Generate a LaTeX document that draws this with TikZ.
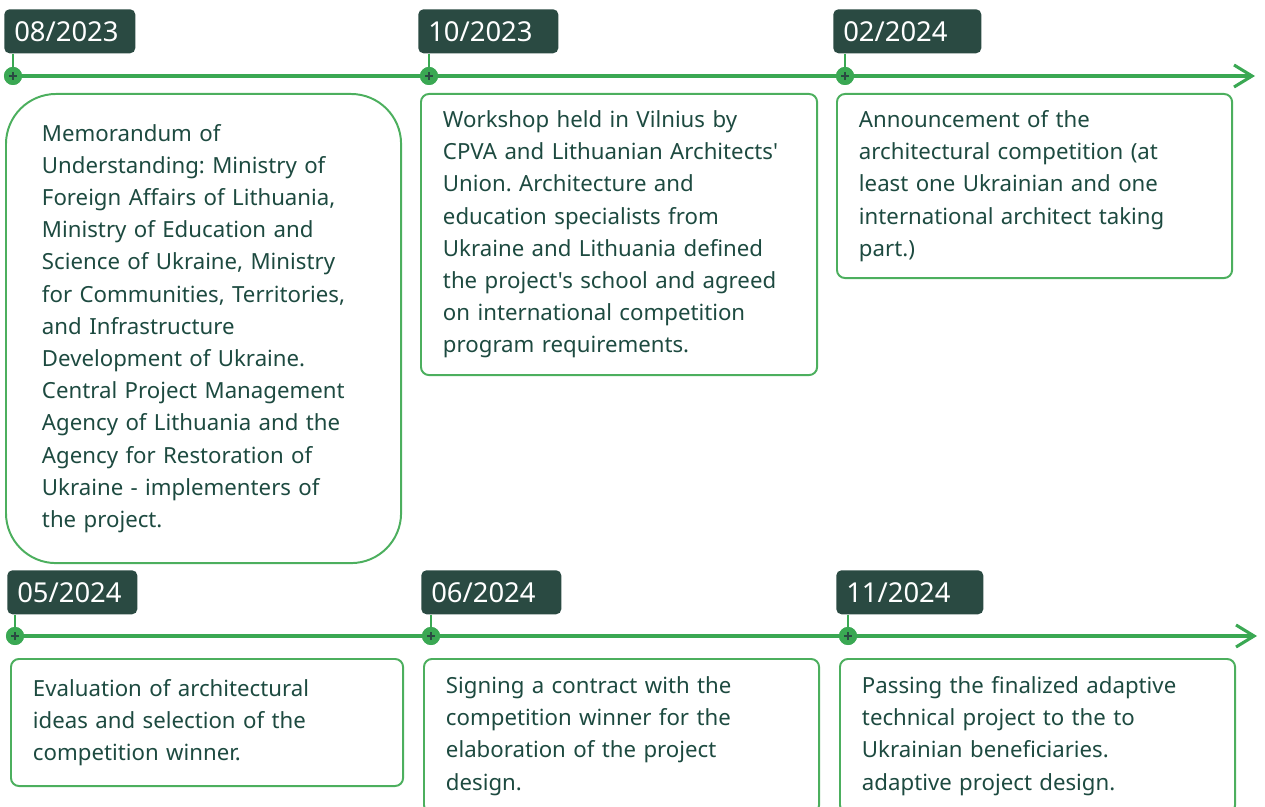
\documentclass[tikz,border=0pt]{standalone}
\usepackage{fontspec}
\setmainfont{Noto Sans}[Ligatures=TeXOff]
\usepackage{tikz}
\usetikzlibrary{arrows.meta,positioning}
\definecolor{lineg}{HTML}{3AA853}
\definecolor{boxg}{HTML}{4CAF5E}
\definecolor{dark}{HTML}{2A4A42}
\definecolor{txt}{HTML}{1D4A40}
\newcommand{\bodyfont}{\fontsize{15.8}{22.9}\selectfont}
\frenchspacing
\tikzset{
    datebox/.style={ % dark date tag
        rectangle,
        fill=dark,
        rounded corners=0.13cm,
        text=white,
        anchor=north west,
        inner xsep=0.25cm,
        minimum height=1.1cm,
        align=left,
        font=\fontsize{19.5}{22}\selectfont
        },
    dot/.style={ % timeline marker
        circle,
        fill=lineg,
        inner sep=0pt,
        minimum size=0.45cm,
        path picture={
            \draw[dark,line width=1.1pt]
              ([xshift=-0.1cm]path picture bounding box.center) -- ++(0.2cm,0)
              ([yshift=-0.1cm]path picture bounding box.center) -- ++(0,0.2cm);}
        },
    evbox/.style={ % event box
        rectangle,
        draw=boxg,
        line width=1.4pt,
        rounded corners=0.2cm,
        anchor=north west,
        inner xsep=0.55cm,
        align=left,
        text=txt,
        font=\bodyfont
        },
    axis/.style={
        draw=lineg,
        line width=2.2pt,
        -{Straight Barb[length=0.45cm,width=0.55cm,line width=2.2pt]}
        },
    stem/.style={
        draw=lineg,
        line width=1.2pt
        }
}
\begin{document}
\begin{tikzpicture}[x=0.025cm,y=-0.025cm]
    \useasboundingbox (0,0) rectangle (1265,807);

    %%%%% first row: timeline
    \coordinate (e1) at (1255,76);
    \node[dot] (m1) at (13,76) {};
    \node[dot] (m2) at (429,76) {};
    \node[dot] (m3) at (845,76) {};
    \draw[axis] (m1.center) -- (e1);

    %%%%% date tags d1..d3
    \node[datebox,text width=2.775cm] (d1) at (4,9) {08/2023};
    \node[datebox,text width=3cm] (d2) at (418,9) {10/2023};
    \node[datebox,text width=3.2cm] (d3) at (833,9) {02/2024};
    \draw[stem] (d1.south west -| m1) -- (m1);
    \draw[stem] (d2.south west -| m2) -- (m2);
    \draw[stem] (d3.south west -| m3) -- (m3);

    %%%%% redraw markers on top
    \node[dot] at (m1) {};
    \node[dot] at (m2) {};
    \node[dot] at (m3) {};

    %%%%% event b1
    \node[evbox,rounded corners=1.25cm,inner xsep=0.9cm,
          text width=8.075cm,minimum height=11.725cm] (b1) at (5,93) {
        Memorandum of\\
        Understanding: Ministry of\\
        Foreign Affairs of Lithuania,\\
        Ministry of Education and\\
        Science of Ukraine, Ministry\\
        for Communities, Territories,\\
        and Infrastructure\\
        Development of Ukraine.\\
        Central Project Management\\
        Agency of Lithuania and the\\
        Agency for Restoration of\\
        Ukraine - implementers of\\
        the project.};

    %%%%% event b2
    \node[evbox,text width=8.8cm,minimum height=7.025cm] (b2) at (420,93) {
        Workshop held in Vilnius by\\
        CPVA and Lithuanian Architects'\\
        Union. Architecture and\\
        education specialists from\\
        Ukraine and Lithuania defined\\
        the project's school and agreed\\
        on international competition\\
        program requirements.};

    %%%%% event b3
    \node[evbox,text width=8.775cm,minimum height=4.6cm] (b3) at (836,93) {
        Announcement of the\\
        architectural competition (at\\
        least one Ukrainian and one\\
        international architect taking\\
        part.)};

    %%%%% second row: timeline
    \coordinate (e2) at (1257,636);
    \node[dot] (m4) at (15,636) {};
    \node[dot] (m5) at (431,636) {};
    \node[dot] (m6) at (848,636) {};
    \draw[axis] (m4.center) -- (e2);

    %%%%% date tags d4..d6
    \node[datebox,text width=2.75cm] (d4) at (7,570) {05/2024};
    \node[datebox,text width=3cm] (d5) at (421,570) {06/2024};
    \node[datebox,text width=3.175cm] (d6) at (836,570) {11/2024};
    \draw[stem] (d4.south west -| m4) -- (m4);
    \draw[stem] (d5.south west -| m5) -- (m5);
    \draw[stem] (d6.south west -| m6) -- (m6);

    \node[dot] at (m4) {};
    \node[dot] at (m5) {};
    \node[dot] at (m6) {};

    %%%%% event b4
    \node[evbox,text width=8.7cm,minimum height=3.175cm] (b4) at (10,658) {
        Evaluation of architectural\\
        ideas and selection of the\\
        competition winner.};

    %%%%% event b5
    \node[evbox,text width=8.775cm,minimum height=3.85cm] (b5) at (423,658) {
        Signing a contract with the\\
        competition winner for the\\
        elaboration of the project\\
        design.};

    %%%%% event b6
    \node[evbox,text width=8.775cm,minimum height=3.85cm] (b6) at (839,658) {
        Passing the finalized adaptive\\
        technical project to the to\\
        Ukrainian beneficiaries.\\
        adaptive project design.};
\end{tikzpicture}
\end{document}
